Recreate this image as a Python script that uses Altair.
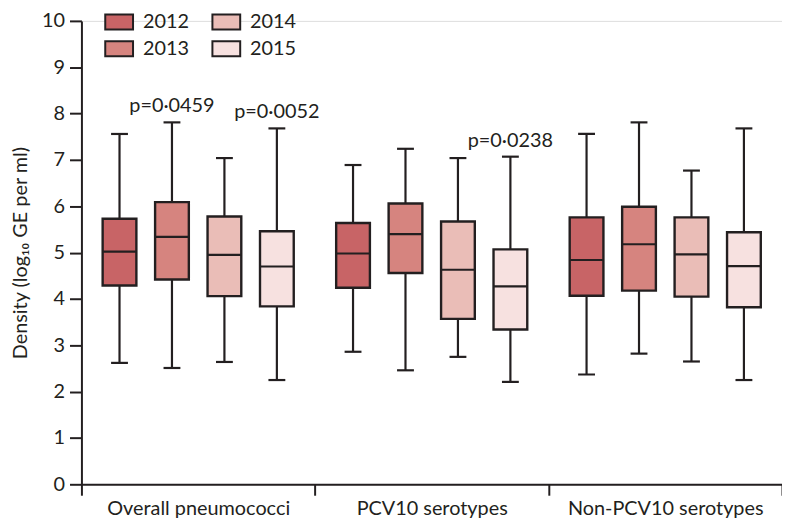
import altair as alt
import pandas as pd

groups = ["Overall pneumococci", "PCV10 serotypes", "Non-PCV10 serotypes"]
years = ["2012", "2013", "2014", "2015"]

# per group, per year (2012..2015)
low = [[2.62, 2.51, 2.64, 2.25],
       [2.86, 2.46, 2.75, 2.21],
       [2.37, 2.82, 2.65, 2.25]]
q1 = [[4.29, 4.42, 4.06, 3.84],
      [4.24, 4.56, 3.57, 3.34],
      [4.07, 4.18, 4.05, 3.82]]
median = [[5.02, 5.34, 4.95, 4.70],
          [4.98, 5.40, 4.63, 4.27],
          [4.84, 5.18, 4.96, 4.71]]
q3 = [[5.73, 6.09, 5.78, 5.46],
      [5.64, 6.06, 5.67, 5.07],
      [5.76, 5.99, 5.76, 5.44]]
high = [[7.56, 7.81, 7.04, 7.68],
        [6.89, 7.24, 7.04, 7.07],
        [7.56, 7.81, 6.77, 7.68]]

p_groups = ["Overall pneumococci", "Overall pneumococci", "PCV10 serotypes"]
p_years = ["2013", "2015", "2015"]
p_labels = ["p=0·0459", "p=0·0052", "p=0·0238"]

colors = {"2012": "#c86466", "2013": "#d6847f", "2014": "#eabdb7", "2015": "#f7e1e0"}

rows = []
for gi, g in enumerate(groups):
    for yi, y in enumerate(years):
        rows.append(dict(group=g, year=y, low=low[gi][yi], q1=q1[gi][yi],
                         median=median[gi][yi], q3=q3[gi][yi], high=high[gi][yi]))
df = pd.DataFrame(rows)

prow = []
for g, y, lab in zip(p_groups, p_years, p_labels):
    h = df[(df.group == g) & (df.year == y)].high.iloc[0]
    prow.append(dict(group=g, year=y, high=h, label=lab))
pdf = pd.DataFrame(prow)

INK = "#231f20"
FONT = "Lato"

x_enc = alt.X("group:N", scale=alt.Scale(domain=groups, paddingInner=0, paddingOuter=0),
              axis=alt.Axis(title=None, labelAngle=0, tickBand="extent", labelFontSize=20,
                            labelFont=FONT, labelColor=INK, domainColor=INK, domainWidth=2,
                            tickColor=INK, tickWidth=2, tickSize=11, labelPadding=3,
                            labelLimit=400))
xo_enc = alt.XOffset("year:N", scale=alt.Scale(domain=years, paddingInner=0, paddingOuter=0.226))
y_scale = alt.Scale(domain=[0, 10], nice=False, zero=True)
y_axis = alt.Axis(values=list(range(11)), title="Density (log₁₀ GE per ml)", grid=False,
                  labelFontSize=20, labelFont=FONT, labelColor=INK, domainColor=INK,
                  domainWidth=2, tickColor=INK, tickWidth=2, tickSize=12, labelPadding=5,
                  titleFont=FONT, titleFontSize=20, titleFontWeight="normal", titleColor=INK,
                  titleX=-55, titleBaseline="alphabetic")

base = alt.Chart(df)

whisk = base.mark_rule(color=INK, strokeWidth=2.2).encode(
    x=x_enc, xOffset=xo_enc,
    y=alt.Y("low:Q", scale=y_scale, axis=y_axis), y2="high:Q")

box = base.mark_bar(size=34, stroke=INK, strokeWidth=2.4).encode(
    x=x_enc, xOffset=xo_enc,
    y=alt.Y("q1:Q", scale=y_scale), y2="q3:Q",
    color=alt.Color("year:N",
                    scale=alt.Scale(domain=years, range=[colors[k] for k in years]),
                    legend=alt.Legend(orient="none", legendX=23, legendY=-14, columns=2,
                                      title=None, symbolType="M-1,-0.54H1V0.54H-1Z",
                                      symbolSize=784, symbolStrokeColor=INK,
                                      symbolStrokeWidth=2, symbolOpacity=1,
                                      labelFont=FONT, labelFontSize=20, labelColor=INK,
                                      labelOffset=9, columnPadding=19, rowPadding=-6,
                                      padding=0)))

med = base.mark_tick(size=34, thickness=2.2, color=INK, opacity=1).encode(
    x=x_enc, xOffset=xo_enc, y=alt.Y("median:Q", scale=y_scale))
cap_lo = base.mark_tick(size=17, thickness=2.2, color=INK, opacity=1).encode(
    x=x_enc, xOffset=xo_enc, y=alt.Y("low:Q", scale=y_scale))
cap_hi = base.mark_tick(size=17, thickness=2.2, color=INK, opacity=1).encode(
    x=x_enc, xOffset=xo_enc, y=alt.Y("high:Q", scale=y_scale))

ptext = alt.Chart(pdf).mark_text(font=FONT, fontSize=20, color=INK, baseline="alphabetic",
                                 align="center", dy=-10).encode(
    x=x_enc, xOffset=xo_enc, y=alt.Y("high:Q", scale=y_scale), text="label:N")

chart = alt.layer(whisk, box, med, cap_lo, cap_hi, ptext).properties(
    width=706, height=467,
    autosize=alt.AutoSizeParams(type="none"),
    padding={"left": 74, "top": 11, "right": 0, "bottom": 36},
).configure_view(stroke=None).configure(background="white")

chart.save("out.html", embed_options={"renderer": "svg", "actions": False})
